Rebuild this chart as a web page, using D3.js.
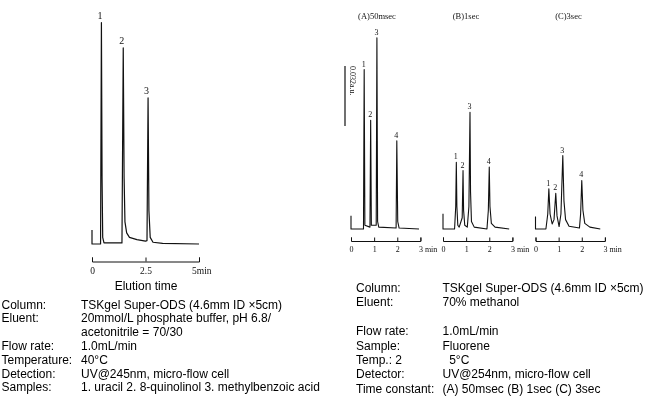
<!DOCTYPE html>
<html>
<head>
<meta charset="utf-8">
<script src="https://cdn.jsdelivr.net/npm/d3@7"></script>
<style>
  body { margin: 0; background: #fff; }
  svg { display: block; will-change: transform; }
</style>
</head>
<body>
<div id="chart"></div>
<script>
// Left chromatogram: elution time (min) vs relative signal (peak 1 = 100)
const leftTrace = [
  [0, 6.3], [0, 0], [0.40, 0], [0.44, 100], [0.47, 30], [0.50, 3], [0.56, 0.5],
  [1.40, 0.5], [1.46, 88.6], [1.50, 30], [1.54, 10], [1.62, 5], [1.75, 3], [2.1, 2], [2.5, 1.3],
  [2.57, 1.5], [2.62, 66], [2.66, 15], [2.72, 3], [2.85, 0.8], [3.3, 0.3], [5.0, 0]
];
const leftPeaks = [
  { label: '1', t: 0.44, h: 100 },
  { label: '2', t: 1.46, h: 88.6 },
  { label: '3', t: 2.62, h: 66 }
];
const leftTicks = [0, 2.5, 5];
const leftTickLabels = ['0', '2.5', '5min'];
const leftAxisTitle = 'Elution time';

// Right chromatograms: time (min) vs absorbance (a.u.), three time constants
const panelTitles = ['(A)50msec', '(B)1sec', '(C)3sec'];
const traceA = [
  [0, 0.0071], [0, 0], [0.54, 0], [0.57, 0.085], [0.60, 0.002], [0.82, 0.001],
  [0.85, 0.058], [0.88, 0.002], [1.09, 0.002], [1.12, 0.102], [1.15, 0.004], [1.20, 0.001],
  [1.95, 0.0005], [1.98, 0.047], [2.02, 0.004], [2.08, 0.0005], [2.94, 0]
];
const traceB = [
  [0, 0.0081], [0, 0], [0.50, 0], [0.55, 0.012], [0.576, 0.0356], [0.60, 0.012], [0.64, 0.002],
  [0.70, 0.001], [0.83, 0.006], [0.866, 0.0312], [0.89, 0.01], [0.94, 0.002], [1.05, 0.001],
  [1.12, 0.012], [1.167, 0.0623], [1.19, 0.02], [1.23, 0.004], [1.35, 0.001], [1.90, 0],
  [1.96, 0.01], [2.0, 0.033], [2.03, 0.012], [2.09, 0.003], [2.25, 0.001], [2.86, 0]
];
const traceC = [
  [0, 0.0067], [0, 0], [0.45, 0], [0.53, 0.008], [0.577, 0.0214], [0.63, 0.008], [0.72, 0.0027],
  [0.80, 0.005], [0.876, 0.019], [0.93, 0.007], [1.02, 0.0013], [1.10, 0.008], [1.18, 0.0392],
  [1.23, 0.015], [1.30, 0.005], [1.45, 0.0015], [1.90, 0.0005], [1.95, 0.008], [2.0, 0.0259],
  [2.05, 0.01], [2.13, 0.003], [2.35, 0.001], [2.80, 0]
];
const peaksA = [[0.57, 0.085], [0.85, 0.058], [1.12, 0.102], [1.98, 0.047]];
const peaksB = [[0.576, 0.0356], [0.866, 0.0312], [1.167, 0.0623], [2.0, 0.033]];
const peaksC = [[0.577, 0.0214], [0.876, 0.019], [1.18, 0.0392], [2.0, 0.0259]];
const peakNames = ['1', '2', '3', '4'];
const rightTicks = [0, 1, 2, 3];
const rightTickLabels = ['0', '1', '2', '3 min'];
const scaleBar = [0.055, 0.087];
const scaleBarLabel = '0.032a.u.';

// Condition tables
const leftCondLabels = ['Column:', 'Eluent:', '', 'Flow rate:', 'Temperature:', 'Detection:', 'Samples:'];
const leftCondValues = ['TSKgel Super-ODS (4.6mm ID \u00d75cm)', '20mmol/L phosphate buffer, pH 6.8/',
  'acetonitrile = 70/30', '1.0mL/min', '40\u00b0C', 'UV@245nm, micro-flow cell',
  '1. uracil 2. 8-quinolinol 3. methylbenzoic acid'];
const rightCondLabels = ['Column:', 'Eluent:', '', 'Flow rate:', 'Sample:', 'Temp.: 2', 'Detector:', 'Time constant:'];
const rightCondValues = ['TSKgel Super-ODS (4.6mm ID \u00d75cm)', '70% methanol', '', '1.0mL/min',
  'Fluorene', '\u00a0\u00a05\u00b0C', 'UV@254nm, micro-flow cell', '(A) 50msec (B) 1sec (C) 3sec'];

const W = 654, H = 399;
const SERIF = '"Liberation Serif", "Times New Roman", serif';
const SANS = '"Liberation Sans", Arial, sans-serif';
const INK = '#111';

const svg = d3.select('#chart').append('svg').attr('width', W).attr('height', H);
svg.append('rect').attr('width', W).attr('height', H).attr('fill', '#fff');

// bracket style time axis: ticks point up, labels below
function timeAxis(g, x, ticks, labels, tick, pad, fs, lastDx) {
  g.call(d3.axisBottom(x).tickValues(ticks).tickFormat((d, i) => labels[i])
    .tickSizeInner(-tick).tickSizeOuter(-tick).tickPadding(pad));
  g.attr('font-family', SERIF).attr('font-size', fs);
  g.select('.domain').attr('stroke', INK).attr('stroke-width', 1);
  g.selectAll('.tick line').attr('stroke', INK);
  g.selectAll('.tick text').attr('fill', INK);
  // unit label hangs off the last tick
  g.selectAll('.tick:last-of-type text').attr('text-anchor', 'start').attr('dx', lastDx);
}

// ---- left chromatogram ----
const xL = d3.scaleLinear().domain([0, 5]).range([92, 199]);
const yL = d3.scaleLinear().domain([0, 100]).range([244, 22.7]);
svg.append('path').datum(leftTrace)
  .attr('d', d3.line().x(d => xL(d[0])).y(d => yL(d[1])))
  .attr('fill', 'none').attr('stroke', INK).attr('stroke-width', 1.2).attr('stroke-linejoin', 'round');
svg.selectAll('.lpk').data(leftPeaks).enter().append('text')
  .attr('x', d => xL(d.t) - 1.5).attr('y', d => yL(d.h) - 3.5)
  .attr('text-anchor', 'middle').attr('font-family', SERIF).attr('font-size', 10).attr('fill', INK)
  .text(d => d.label);
timeAxis(svg.append('g').attr('transform', 'translate(0,261.5)'), xL, leftTicks, leftTickLabels, 4, 6, 9.5, '-7.5');
svg.append('text').attr('x', 146).attr('y', 289.5).attr('text-anchor', 'middle')
  .attr('font-family', SANS).attr('font-size', 12).attr('fill', '#000').text(leftAxisTitle);

// ---- right chromatograms ----
const panelX0 = [351, 443, 535.5];
const titleDx = [26, 23, 33];
const traces = [traceA, traceB, traceC];
const peaks = [peaksA, peaksB, peaksC];
const yR = d3.scaleLinear().domain([0, 0.11]).range([229, 229 - 0.11 * 1875]);

traces.forEach((tr, i) => {
  const x = d3.scaleLinear().domain([0, 3]).range([panelX0[i], panelX0[i] + 69.4]);
  svg.append('text').attr('x', panelX0[i] + titleDx[i]).attr('y', 19)
    .attr('text-anchor', 'middle').attr('font-family', SERIF).attr('font-size', 8.5).attr('fill', INK)
    .text(panelTitles[i]);
  svg.append('path').datum(tr)
    .attr('d', d3.line().x(d => x(d[0])).y(d => yR(d[1])))
    .attr('fill', 'none').attr('stroke', INK).attr('stroke-width', 1.1).attr('stroke-linejoin', 'round');
  svg.selectAll('.pk' + i).data(peaks[i]).enter().append('text')
    .attr('x', d => x(d[0]) - 0.5).attr('y', d => yR(d[1]) - 3)
    .attr('text-anchor', 'middle').attr('font-family', SERIF).attr('font-size', 8).attr('fill', INK)
    .text((d, j) => peakNames[j]);
  timeAxis(svg.append('g').attr('transform', 'translate(0,241)'), x, rightTicks, rightTickLabels, 3.5, 5.5, 8, '-2');
});

// absorbance scale bar next to panel A
svg.append('line').attr('x1', 345).attr('x2', 345)
  .attr('y1', yR(scaleBar[0])).attr('y2', yR(scaleBar[1]))
  .attr('stroke', INK).attr('stroke-width', 1.2);
svg.append('text').attr('transform', `translate(350,${yR(scaleBar[1])}) rotate(90)`)
  .attr('font-family', SERIF).attr('font-size', 8).attr('fill', INK).text(scaleBarLabel);

// ---- condition tables ----
function condTable(labels, values, x0, x1, y0, dy) {
  const g = svg.append('g').attr('font-family', SANS).attr('font-size', 12).attr('fill', '#000');
  labels.forEach((l, i) => {
    const y = y0 + i * dy;
    if (l) g.append('text').attr('x', x0).attr('y', y).text(l);
    if (values[i]) g.append('text').attr('x', x1).attr('y', y).text(values[i]);
  });
}
condTable(leftCondLabels, leftCondValues, 1.5, 81, 308.5, 13.8);
condTable(rightCondLabels, rightCondValues, 356, 442.5, 292, 14.4);
</script>
</body>
</html>
